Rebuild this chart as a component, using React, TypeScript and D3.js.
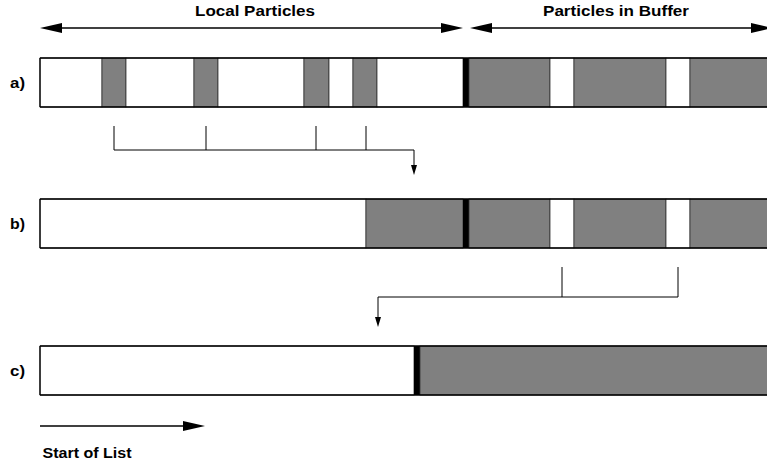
import React from "react";
import * as d3 from "d3";

// Positions along the particle list (units from list start)
type Seg = [number, number, "w" | "g" | "k"];

const rowLabels = ["a)", "b)", "c)"];

const rowA: Seg[] = [
  [0, 62, "w"], [62, 86, "g"], [86, 154, "w"], [154, 178, "g"], [178, 264, "w"],
  [264, 289, "g"], [289, 313, "w"], [313, 337, "g"], [337, 423, "w"], [423, 429, "k"],
  [429, 510, "g"], [510, 534, "w"], [534, 626, "g"], [626, 650, "w"], [650, 740, "g"],
];
const rowB: Seg[] = [
  [0, 326, "w"], [326, 423, "g"], [423, 429, "k"], [429, 510, "g"], [510, 534, "w"],
  [534, 626, "g"], [626, 650, "w"], [650, 740, "g"],
];
const rowC: Seg[] = [
  [0, 374, "w"], [374, 380, "k"], [380, 740, "g"],
];
const rows = [rowA, rowB, rowC];

// Brackets: taps, arrow drop position
const bracket1Taps = [74, 166, 276, 326];
const bracket1Drop = 374;
const bracket2Taps = [522, 638];
const bracket2Drop = 338;

const spans = [
  { label: "Local Particles", from: 0, to: 423, textW: 120 },
  { label: "Particles in Buffer", from: 430, to: 733, textW: 146 },
];

const startLabel = "Start of List";
const startArrow = [0, 165];

const W = 767, H = 460;
const x = d3.scaleLinear().domain([0, 727]).range([40, 767]);
const rowTop = [58, 199, 346];
const rowH = 49;

const FONT = "'Liberation Sans', Arial, Helvetica, sans-serif";
const fills: Record<string, string> = { w: "#ffffff", g: "#808080", k: "#000000" };

function headPath(tipX: number, tipY: number, dir: "l" | "r" | "d", len: number, hw: number) {
  const p = d3.path();
  if (dir === "r") {
    p.moveTo(tipX, tipY); p.lineTo(tipX - len, tipY - hw); p.lineTo(tipX - len, tipY + hw);
  } else if (dir === "l") {
    p.moveTo(tipX, tipY); p.lineTo(tipX + len, tipY - hw); p.lineTo(tipX + len, tipY + hw);
  } else {
    p.moveTo(tipX, tipY); p.lineTo(tipX - hw, tipY - len); p.lineTo(tipX + hw, tipY - len);
  }
  p.closePath();
  return p.toString();
}

export default function App() {
  const arrowY = 28;
  const b1Y = 150, b1Top = 126, b1Tip = 175;
  const b2Y = 297, b2Top = 267, b2Tip = 327;
  const sY = 426;
  return (
    <svg width={W} height={H} style={{ position: "absolute", left: 0, top: 0, background: "#fff" }}>
      {/* top spans */}
      {spans.map((s, i) => {
        const x0 = x(s.from), x1 = x(s.to);
        const cx = i === 0 ? 255 : 616;
        return (
          <g key={i}>
            <line x1={x0 + 10} x2={x1 - 10} y1={arrowY} y2={arrowY} stroke="#000" strokeWidth={1.3} />
            <path d={headPath(x0, arrowY, "l", 22, 5)} fill="#000" />
            <path d={headPath(x1, arrowY, "r", 22, 5)} fill="#000" />
            <text x={cx - s.textW / 2} y={16} fontFamily={FONT} fontWeight="bold"
              fontSize={14.5} textLength={s.textW} lengthAdjust="spacingAndGlyphs">{s.label}</text>
          </g>
        );
      })}

      {/* rows */}
      {rows.map((segs, r) => {
        const y0 = rowTop[r];
        return (
          <g key={r}>
            {segs.map((s, i) => (
              <rect key={i} x={x(s[0])} y={y0} width={x(s[1]) - x(s[0])} height={rowH}
                fill={fills[s[2]]} stroke={s[2] === "k" ? "#000" : "#333"} strokeWidth={s[2] === "k" ? 0 : 0.8} />
            ))}
            <line x1={x(0)} x2={W} y1={y0} y2={y0} stroke="#000" strokeWidth={1.3} />
            <line x1={x(0)} x2={W} y1={y0 + rowH} y2={y0 + rowH} stroke="#000" strokeWidth={1.3} />
            <line x1={x(0)} x2={x(0)} y1={y0} y2={y0 + rowH} stroke="#000" strokeWidth={1.3} />
            <text x={10} y={y0 + rowH / 2 + 5.5} fontFamily={FONT} fontWeight="bold" fontSize={15}
              textLength={15} lengthAdjust="spacingAndGlyphs">{rowLabels[r]}</text>
          </g>
        );
      })}

      {/* bracket 1 */}
      <g stroke="#000" strokeWidth={1}>
        {bracket1Taps.map((t, i) => (
          <line key={i} x1={x(t)} x2={x(t)} y1={b1Top} y2={b1Y} />
        ))}
        <line x1={x(bracket1Taps[0])} x2={x(bracket1Drop)} y1={b1Y} y2={b1Y} />
        <line x1={x(bracket1Drop)} x2={x(bracket1Drop)} y1={b1Y} y2={b1Tip - 8} />
      </g>
      <path d={headPath(x(bracket1Drop), b1Tip, "d", 10, 3)} fill="#000" />

      {/* bracket 2 */}
      <g stroke="#000" strokeWidth={1}>
        {bracket2Taps.map((t, i) => (
          <line key={i} x1={x(t)} x2={x(t)} y1={b2Top} y2={b2Y} />
        ))}
        <line x1={x(bracket2Drop)} x2={x(bracket2Taps[bracket2Taps.length - 1])} y1={b2Y} y2={b2Y} />
        <line x1={x(bracket2Drop)} x2={x(bracket2Drop)} y1={b2Y} y2={b2Tip - 8} />
      </g>
      <path d={headPath(x(bracket2Drop), b2Tip, "d", 10, 3)} fill="#000" />

      {/* start of list */}
      <line x1={x(startArrow[0])} x2={x(startArrow[1]) - 10} y1={sY} y2={sY} stroke="#000" strokeWidth={1.3} />
      <path d={headPath(x(startArrow[1]), sY, "r", 22, 5)} fill="#000" />
      <text x={42.5} y={457.5} fontFamily={FONT} fontWeight="bold" fontSize={14}
        textLength={89} lengthAdjust="spacingAndGlyphs">{startLabel}</text>
    </svg>
  );
}
